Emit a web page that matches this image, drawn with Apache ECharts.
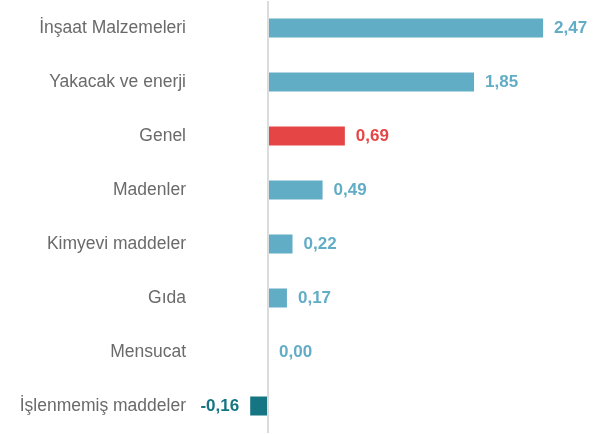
<!DOCTYPE html>
<html><head><meta charset="utf-8">
<script src="https://cdn.jsdelivr.net/npm/echarts@6/dist/echarts.min.js"></script>
<style>html,body{margin:0;padding:0;background:#fff}#c{width:598px;height:435px}</style>
</head><body><div id="c"></div>
<script>
const categories = ["İnşaat Malzemeleri","Yakacak ve enerji","Genel","Madenler","Kimyevi maddeler","Gıda","Mensucat","İşlenmemiş maddeler"];
const values = [2.47, 1.85, 0.69, 0.49, 0.22, 0.17, 0.00, -0.16];
const colors = ["#62adc6","#62adc6","#e64545","#62adc6","#62adc6","#62adc6","#62adc6","#157582"];

const chart = echarts.init(document.getElementById('c'), null, {renderer:'canvas'});
const fmt = v => v.toFixed(2).replace('.', ',');
chart.setOption({
  animation:false,
  grid:{left:196,right:7,top:1,bottom:2,containLabel:false,outerBoundsMode:'none'},
  xAxis:{type:'value',min:-0.6466,max:2.9,show:false,splitLine:{show:false}},
  yAxis:{type:'category',data:categories,inverse:true,
    axisLine:{show:false},
    axisTick:{show:false},
    axisLabel:{margin:10,color:'#6a6a6a',fontSize:17.5,fontFamily:'Liberation Sans'}},
  series:[{type:'bar',barWidth:19,
    data:values.map((v,i)=>({value:v,itemStyle:{color:colors[i]},
      label:{show:true,position:v<0?'left':'right',distance:11,color:colors[i],
        fontWeight:'bold',fontSize:17,fontFamily:'Liberation Sans',formatter:()=>fmt(v)}})),
    markLine:{silent:true,symbol:'none',label:{show:false},
      lineStyle:{color:'#dcdcdc',width:2,type:'solid'},data:[{xAxis:0}]}
  }]
});
</script></body></html>
